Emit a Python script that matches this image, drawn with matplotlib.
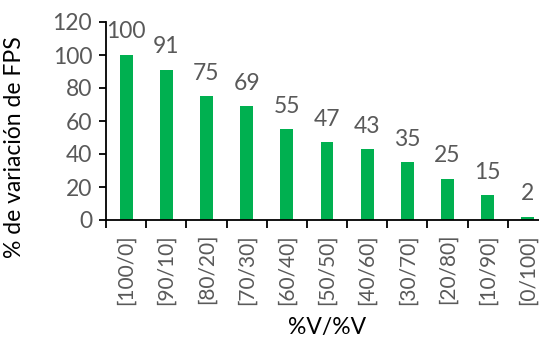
import matplotlib
matplotlib.use("Agg")
import matplotlib.pyplot as plt
import numpy as np

# Mezclas %V/%V y variación de FPS
categorias = ["[100/0]", "[90/10]", "[80/20]", "[70/30]", "[60/40]", "[50/50]",
              "[40/60]", "[30/70]", "[20/80]", "[10/90]", "[0/100]"]
variacion_fps = [100, 91, 75, 69, 55, 47, 43, 35, 25, 15, 2]

plt.rcParams["font.family"] = ["Lato", "DejaVu Sans"]

GRIS = "#595959"
VERDE = "#00B050"
FS = 16.5

fig = plt.figure(figsize=(5.39, 3.42), dpi=100)
ax = fig.add_axes([106 / 539, 1 - 220 / 342, 442 / 539, 198 / 342])

x = np.arange(len(categorias))
ax.bar(x, variacion_fps, width=0.32, color=VERDE, zorder=2)

for xi, v in zip(x, variacion_fps):
    ax.annotate(f"{v}", (xi, v), xytext=(0, 9), textcoords="offset points",
                ha="center", va="bottom", fontsize=FS, color=GRIS)

ax.set_xlim(-0.5, len(categorias) - 0.5)
ax.set_ylim(0, 120)
ax.set_yticks(range(0, 121, 20))
ax.tick_params(axis="y", labelsize=FS, labelcolor=GRIS, length=5, width=1.3,
               direction="out", pad=5)

# marcas entre categorías, etiquetas en el centro
ax.set_xticks(np.arange(len(categorias) + 1) - 0.5)
ax.set_xticklabels([])
ax.set_xticks(x, minor=True)
ax.set_xticklabels(categorias, minor=True, rotation=90, fontsize=15, color=GRIS)
ax.tick_params(axis="x", which="major", length=6, width=1.3, direction="out")
ax.tick_params(axis="x", which="minor", length=0, pad=10)

for s in ["top", "right"]:
    ax.spines[s].set_visible(False)
for s in ["left", "bottom"]:
    ax.spines[s].set_linewidth(1.3)
    ax.spines[s].set_color("black")

ax.set_ylabel("% de variación de FPS", fontsize=FS, color="black")
ax.yaxis.set_label_coords(-0.183, 0.37)
ax.set_xlabel("%V/%V", fontsize=FS, color="black")
ax.xaxis.set_label_coords(0.5, -0.49)

fig.savefig("out.png", dpi=100)
